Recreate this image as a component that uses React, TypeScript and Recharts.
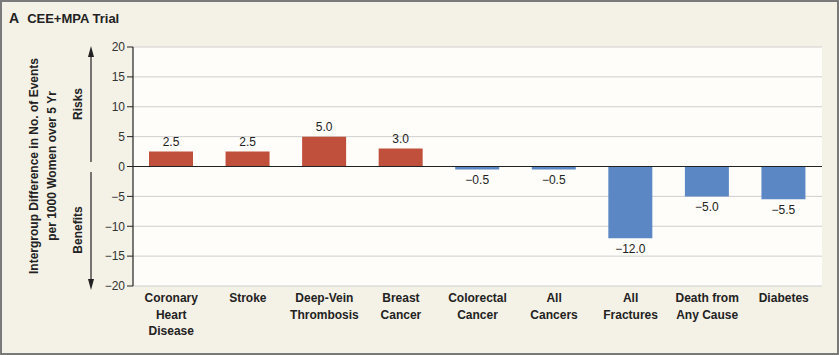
import React from "react";
import {
  BarChart, Bar, XAxis, YAxis, CartesianGrid, ReferenceLine, LabelList, Cell, Customized,
} from "recharts";

const CATEGORIES = [
  "Coronary\nHeart\nDisease",
  "Stroke",
  "Deep-Vein\nThrombosis",
  "Breast\nCancer",
  "Colorectal\nCancer",
  "All\nCancers",
  "All\nFractures",
  "Death from\nAny Cause",
  "Diabetes",
];
const DIFFERENCES = [2.5, 2.5, 5.0, 3.0, -0.5, -0.5, -12.0, -5.0, -5.5];
const Y_TICKS = [-20, -15, -10, -5, 0, 5, 10, 15, 20];

const RISK_COLOR = "#c0503b";
const BENEFIT_COLOR = "#5b87c5";
const FONT = "'Liberation Sans', Arial, sans-serif";

const data = CATEGORIES.map((name, i) => ({ name, value: DIFFERENCES[i] }));

function fmt(v: number, digits = 0) {
  const s = Math.abs(v).toFixed(digits);
  return v < 0 ? "\u2212" + s : s;
}

function CategoryTick({ x, y, payload }: any) {
  const lines = String(payload.value).split("\n");
  return (
    <text x={x} y={y + 8} textAnchor="middle" fontFamily={FONT} fontWeight="bold" fontSize={12} fill="#222">
      {lines.map((l, i) => (
        <tspan key={i} x={x} dy={i === 0 ? 0 : 16.5}>{l}</tspan>
      ))}
    </text>
  );
}

function ValueLabel({ x, y, width, height, value }: any) {
  const top = Math.min(y, y + height);
  const bottom = Math.max(y, y + height);
  const cx = x + width / 2;
  const ty = value >= 0 ? top - 6 : bottom + 15;
  return (
    <text x={cx} y={ty} textAnchor="middle" fontFamily={FONT} fontSize={12} fill="#222">
      {fmt(value, 1)}
    </text>
  );
}

function SideLabels() {
  return (
    <g fontFamily={FONT} fontWeight="bold" fontSize={12} fill="#222">
      <text transform="translate(38,166) rotate(-90)" textAnchor="middle">
        Intergroup Difference in No. of Events
      </text>
      <text transform="translate(56,166) rotate(-90)" textAnchor="middle">
        per 1000 Women over 5 Yr
      </text>
      <text transform="translate(82,104) rotate(-90)" textAnchor="middle">Risks</text>
      <text transform="translate(82,230) rotate(-90)" textAnchor="middle">Benefits</text>
      <line x1={91} y1={55} x2={91} y2={162} stroke="#222" strokeWidth={1.2} />
      <polygon points="91,46 88,57 94,57" fill="#222" />
      <line x1={91} y1={172} x2={91} y2={281} stroke="#222" strokeWidth={1.2} />
      <polygon points="91,290 88,279 94,279" fill="#222" />
    </g>
  );
}

export default function App() {
  return (
    <div
      style={{
        position: "fixed", top: 0, left: 0, width: 839, height: 355, boxSizing: "border-box",
        background: "#f4f1e6", border: "2px solid #7a7a7a", overflow: "hidden",
      }}
    >
      <div
        style={{
          position: "absolute", left: 7, top: 8, fontFamily: FONT, fontWeight: "bold",
          fontSize: 13, color: "#222",
        }}
      >
        <span style={{ marginRight: 8, fontSize: 14 }}>A</span>CEE+MPA Trial
      </div>
      <div style={{ position: "absolute", left: -2, top: -2 }}>
        <BarChart
          width={839}
          height={355}
          data={data}
          margin={{ top: 47, right: 17, left: 0, bottom: 0 }}
        >
          <CartesianGrid vertical={false} stroke="#cfcfcf" fill="#fefdf9" />
          <XAxis
            dataKey="name"
            axisLine={false}
            tickLine={false}
            height={69}
            interval={0}
            tick={<CategoryTick />}
          />
          <YAxis
            width={133}
            domain={[-20, 20]}
            ticks={Y_TICKS}
            tickFormatter={(v: number) => fmt(v)}
            axisLine={{ stroke: "#222", strokeWidth: 1.2 }}
            tickLine={{ stroke: "#222" }}
            tickSize={6}
            tick={{ fontFamily: FONT, fontSize: 12, fill: "#333" }}
          />
          <ReferenceLine y={0} stroke="#222" strokeWidth={1.2} />
          <Bar dataKey="value" barSize={44} isAnimationActive={false}>
            {data.map((d, i) => (
              <Cell key={i} fill={d.value >= 0 ? RISK_COLOR : BENEFIT_COLOR} />
            ))}
            <LabelList dataKey="value" content={<ValueLabel />} />
          </Bar>
          <Customized component={SideLabels} />
        </BarChart>
      </div>
    </div>
  );
}
